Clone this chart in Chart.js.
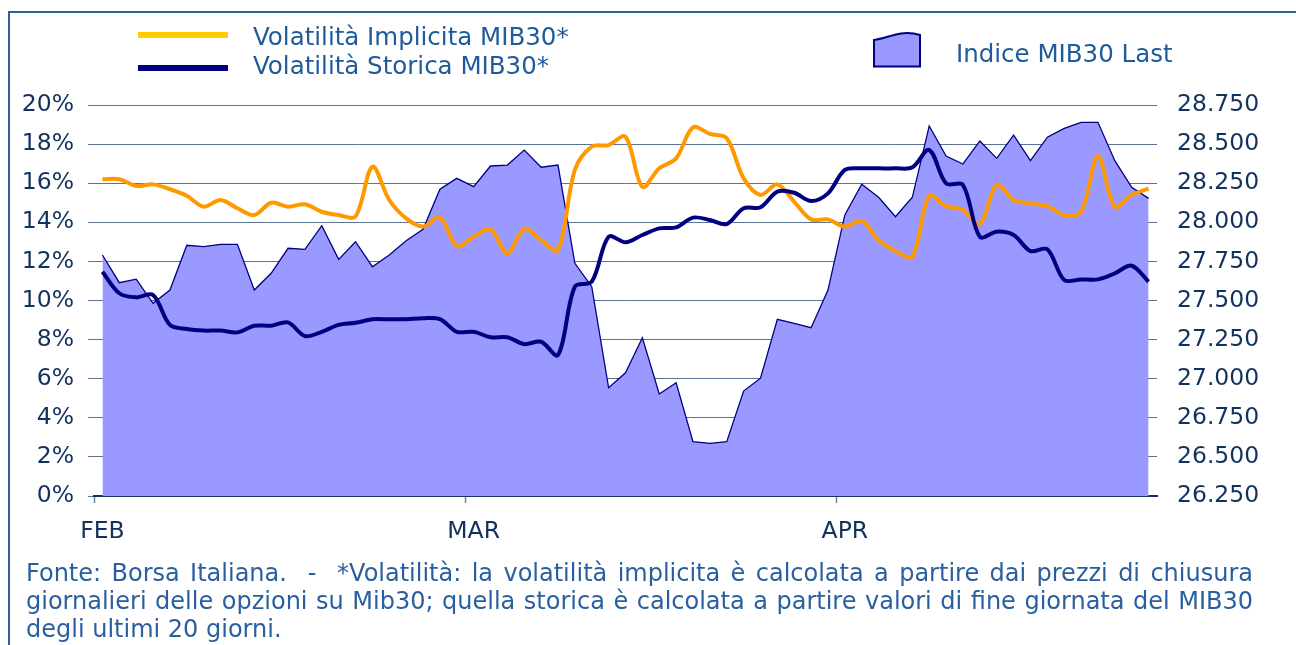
<!DOCTYPE html>
<html>
<head>
<meta charset="utf-8">
<script src="https://cdn.jsdelivr.net/npm/chart.js@4.4.1/dist/chart.umd.min.js"></script>
<style>
  body { margin: 0; width: 1296px; height: 645px; overflow: hidden; background: #fff; position: relative;
         font-family: 'DejaVu Sans', Verdana, sans-serif; }
  #frame { position: absolute; left: 8px; top: 11px; width: 1300px; height: 650px;
           border-top: 2px solid #2e5f9f; border-left: 2px solid #2e5f9f; }
  canvas { position: absolute; left: 0; top: 0; }
  .lg { position: absolute; font-size: 24.5px; line-height: 28px; color: #1f5a9a; white-space: nowrap; }
  .sw { position: absolute; left: 138px; width: 90px; height: 6px; }
  #note { position: absolute; left: 26px; top: 560px; width: 1227px; font-size: 24px; line-height: 27.8px;
          color: #2a5f9f; text-align: justify; }
</style>
</head>
<body>
<div id="frame"></div>
<canvas id="chart" width="1296" height="645"></canvas>

<div class="sw" style="top:32px;background:#ffcc00"></div>
<div class="sw" style="top:65px;background:#000080"></div>
<div class="lg" style="left:253px;top:23px">Volatilità Implicita MIB30*</div>
<div class="lg" style="left:253px;top:52px">Volatilità Storica MIB30*</div>
<svg style="position:absolute;left:873px;top:32px" width="50" height="38">
  <path d="M1,8 C10,7 18,3 28,1.5 C36,0.5 42,1.5 47,3 L47,34.5 L1,34.5 Z" fill="#9999ff" stroke="#000080" stroke-width="2"/>
</svg>
<div class="lg" style="left:956px;top:40px">Indice MIB30 Last</div>

<div id="note">Fonte: Borsa Italiana. &nbsp;- &nbsp;*Volatilità: la volatilità implicita è calcolata a partire dai prezzi di chiusura giornalieri delle opzioni su Mib30; quella storica è calcolata a partire valori di fine giornata del MIB30 degli ultimi 20 giorni.</div>

<script>
// one label every trading day, only the month starts are shown
const labels = [
  "FEB", "", "", "", "", "", "", "", "", "", "", "", "", "", "", "", "", "", "", "", "", "",
  "MAR", "", "", "", "", "", "", "", "", "", "", "", "", "", "", "", "", "", "", "", "", "",
  "APR", "", "", "", "", "", "", "", "", "", "", "", "", "", "", "", "", "", ""
];

const volImplicita = [
  16.2, 16.2, 15.86, 15.94, 15.69, 15.36, 14.8, 15.14, 14.72, 14.37,
  15.0, 14.8, 14.92, 14.54, 14.37, 14.3, 16.84, 15.14, 14.2, 13.78,
  14.26, 12.79, 13.26, 13.64, 12.41, 13.67, 13.09, 12.58, 16.68, 17.87,
  17.95, 18.38, 15.82, 16.76, 17.27, 18.86, 18.52, 18.3, 16.25, 15.4,
  15.94, 15.05, 14.15, 14.15, 13.78, 14.07, 13.09, 12.53, 12.24, 15.35,
  14.83, 14.63, 13.9, 15.91, 15.14, 14.97, 14.83, 14.37, 14.54, 17.39,
  14.8, 15.4, 15.72
];

const volStorica = [
  11.47, 10.37, 10.16, 10.28, 8.75, 8.54, 8.46, 8.46, 8.37, 8.71,
  8.71, 8.88, 8.18, 8.4, 8.75, 8.86, 9.04, 9.04, 9.04, 9.09,
  9.05, 8.4, 8.4, 8.12, 8.12, 7.77, 7.89, 7.21, 10.71, 10.96,
  13.26, 12.98, 13.35, 13.69, 13.74, 14.24, 14.12, 13.91, 14.72, 14.77,
  15.57, 15.51, 15.09, 15.48, 16.68, 16.76, 16.76, 16.76, 16.81, 17.7,
  15.99, 15.91, 13.26, 13.52, 13.35, 12.53, 12.62, 11.05, 11.08, 11.08,
  11.39, 11.78, 10.96
];

const indiceMib30 = [
  27791, 27614, 27636, 27482, 27567, 27853, 27844, 27859, 27859, 27567,
  27674, 27834, 27827, 27978, 27763, 27876, 27716, 27791, 27882, 27955,
  28211, 28281, 28228, 28360, 28366, 28462, 28352, 28366, 27738, 27588,
  26942, 27038, 27262, 26902, 26974, 26597, 26587, 26597, 26921, 27003,
  27380, 27354, 27326, 27567, 28047, 28243, 28160, 28036, 28160, 28616,
  28424, 28373, 28520, 28409, 28558, 28394, 28544, 28601, 28639, 28639,
  28394, 28224, 28153
];

const tickFont = { family: "'DejaVu Sans', Verdana, sans-serif", size: 23.5 };
const tickColor = "#12325e";

function thousands(v) {
    return String(v).replace(/\B(?=(\d{3})+(?!\d))/g, ".");
}

const ctx = document.getElementById("chart").getContext("2d");
const chart = new Chart(ctx, {
    type: "line",
    data: {
        labels: labels,
        datasets: [
            {
                label: "Volatilità Storica MIB30*",
                data: volStorica,
                yAxisID: "y",
                borderColor: "#000080",
                borderWidth: 4,
                pointRadius: 0,
                tension: 0.33,
                fill: false,
                order: 0
            },
            {
                label: "Volatilità Implicita MIB30*",
                data: volImplicita,
                yAxisID: "y",
                borderColor: "#ff9900",
                borderWidth: 4,
                pointRadius: 0,
                tension: 0.33,
                fill: false,
                order: 1
            },
            {
                label: "Indice MIB30 Last",
                data: indiceMib30,
                yAxisID: "y1",
                borderColor: "#000080",
                borderWidth: 1.3,
                backgroundColor: "#9999ff",
                pointRadius: 0,
                tension: 0,
                fill: "start",
                order: 2
            }
        ]
    },
    options: {
        responsive: false,
        animation: false,
        devicePixelRatio: 1,
        layout: { padding: { top: 105, bottom: 89, left: 0, right: 0 } },
        plugins: { legend: { display: false }, tooltip: { enabled: false } },
        scales: {
            x: {
                type: "category",
                offset: true,
                grid: {
                    offset: true,
                    drawOnChartArea: false,
                    drawTicks: true,
                    tickLength: 7,
                    color: "transparent",
                    tickColor: (c) => (labels[c.index] ? "#6d84a4" : "transparent"),
                    tickWidth: 1.5
                },
                border: { display: true, color: "#1a2f60", width: 2 },
                ticks: { autoSkip: false, maxRotation: 0, padding: 15, color: tickColor, font: tickFont },
                afterFit: (s) => { s.height = 60; }
            },
            y: {
                position: "left",
                min: 0,
                max: 20,
                grid: { color: "#5a7392", lineWidth: 1, tickLength: 6, drawTicks: true },
                border: { display: false },
                ticks: { stepSize: 2, padding: 14, color: tickColor, font: tickFont, callback: (v) => v + "%" },
                afterFit: (s) => { s.width = 94; }
            },
            y1: {
                position: "right",
                min: 26250,
                max: 28750,
                grid: { drawOnChartArea: false, drawTicks: false },
                border: { display: false },
                ticks: { stepSize: 250, padding: 20, color: tickColor, font: tickFont, callback: (v) => thousands(v) },
                afterFit: (s) => { s.width = 139; }
            }
        }
    }
});
</script>
</body>
</html>
